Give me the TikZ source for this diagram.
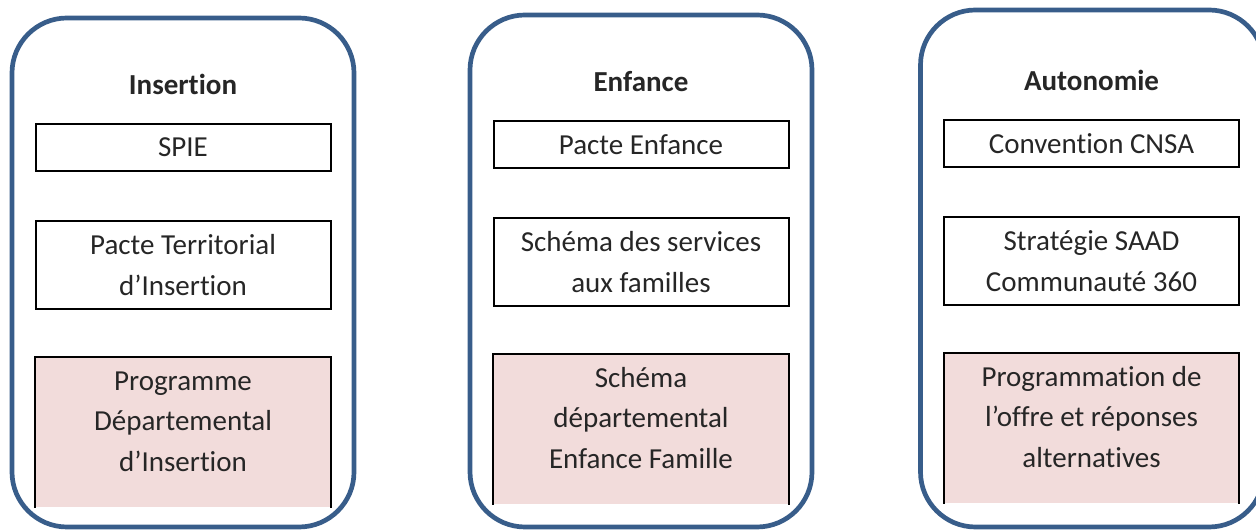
\documentclass[tikz,border=0pt]{standalone}
\usepackage{fontspec}
\setmainfont{Carlito}[Ligatures=NoCommon]
\usetikzlibrary{positioning}

\definecolor{frameblue}{HTML}{385D8A}
\definecolor{planpink}{HTML}{F2DCDB}
\definecolor{textgray}{HTML}{262626}

\begin{document}
\begin{tikzpicture}[
    every node/.style={
        text=textgray,
        font=\fontsize{16.5}{23}\selectfont
    },
    column/.style={ % Rounded frame of one domain
        rectangle,
        draw=frameblue,
        line width=0.094cm,
        rounded corners=1.1cm,
        minimum width=6.84cm
    },
    heading/.style={
        font=\fontsize{16.5}{23}\selectfont\bfseries,
        inner sep=0pt,
        text depth=0pt
    },
    entry/.style={
        rectangle,
        draw=black,
        line width=0.04cm,
        minimum width=5.9cm,
        align=center
    },
    plan/.style={ % Pink box, text kept at the top (height is above the last line)
        rectangle,
        fill=planpink,
        minimum width=5.9cm,
        inner ysep=0pt,
        text height=2.27cm,
        text depth=0.72cm,
        align=center
    },
    sides/.style={
        draw=black,
        line width=0.04cm
    }
]

    \useasboundingbox (0,0) rectangle (25.12,10.6);
    \clip (0,0) rectangle (25.12,10.6);

    % Columns
    \node[column, minimum height=10.18cm] (insert) at (3.66,5.15) {};
    \node[column, minimum height=10.24cm] (enfance) at (12.82,5.18) {};
    \node[column, minimum width=6.87cm, minimum height=10.34cm] (auto) at (21.845,5.23) {};

    % Insertion
    \node[entry, minimum height=0.94cm, anchor=north] (spie) at (3.66,8.14) {SPIE};
    \node[heading, above=0.57cm of spie] (tinsert) {Insertion};
    \node[entry, minimum height=1.76cm, below=0.96cm of spie] (pti) {Pacte Territorial\\d’Insertion};
    \node[plan, below=0.95cm of pti] (pdi) {Programme\\Départemental\\d’Insertion};
    \draw[sides] (pdi.south west) -- (pdi.north west) -- (pdi.north east) -- (pdi.south east);

    % Enfance
    \node[entry, minimum height=0.94cm, anchor=north] (pacte) at (12.82,8.20) {Pacte Enfance};
    \node[heading, above=0.57cm of pacte] (tenfance) {Enfance};
    \node[entry, minimum height=1.76cm, below=0.96cm of pacte] (ssf) {Schéma des services\\aux familles};
    \node[plan, below=0.95cm of ssf] (sdef) {Schéma\\départemental\\Enfance Famille};
    \draw[sides] (sdef.south west) -- (sdef.north west) -- (sdef.north east) -- (sdef.south east);

    % Autonomie
    \node[entry, minimum height=0.94cm, anchor=north] (cnsa) at (21.83,8.22) {Convention CNSA};
    \node[heading, above=0.57cm of cnsa] (tauto) {Autonomie};
    \node[entry, minimum height=1.76cm, below=0.96cm of cnsa] (saad) {Stratégie SAAD\\Communauté 360};
    \node[plan, below=0.95cm of saad] (prog) {Programmation de\\l’offre et réponses\\alternatives};
    \draw[sides] (prog.south west) -- (prog.north west) -- (prog.north east) -- (prog.south east);

\end{tikzpicture}
\end{document}
